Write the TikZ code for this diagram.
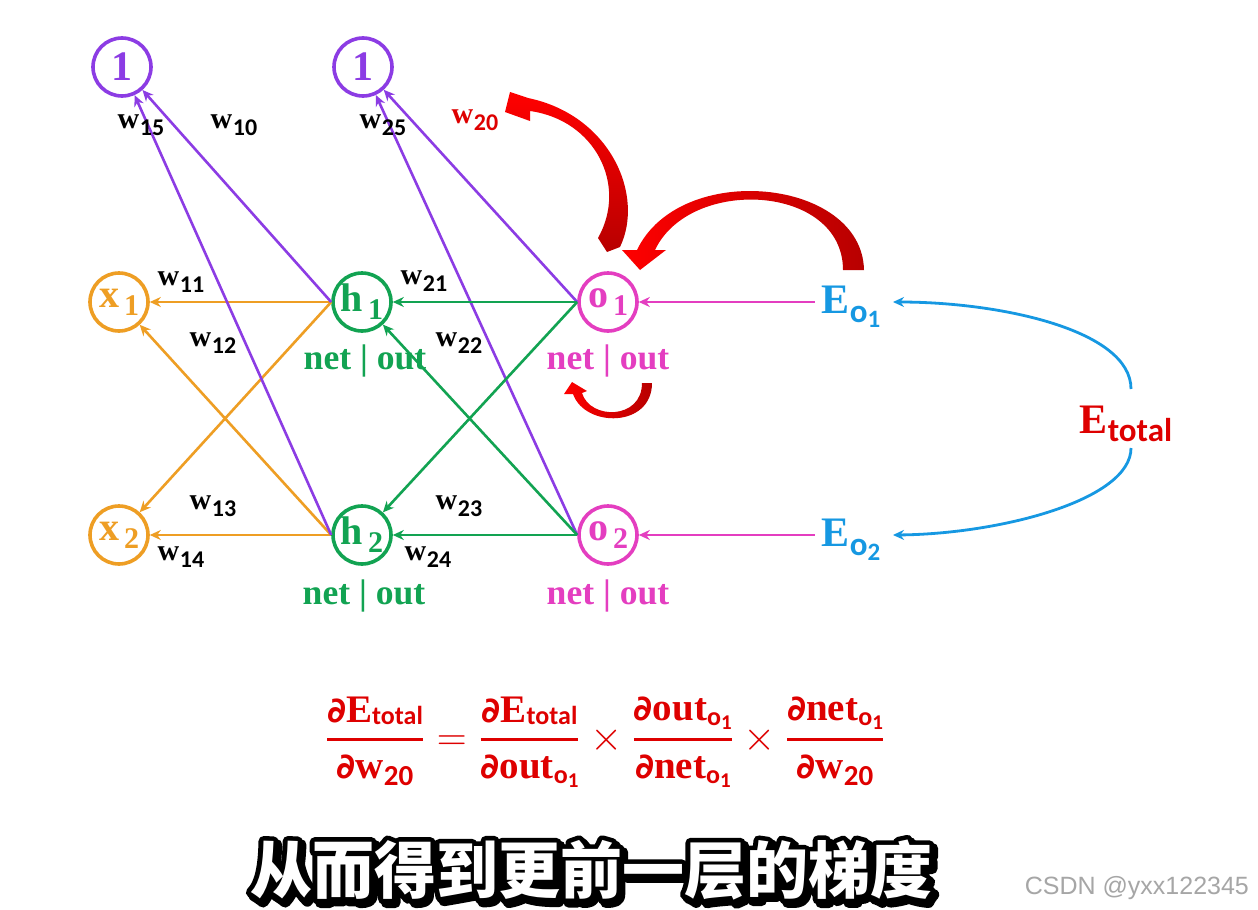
\documentclass[tikz,border=0pt]{standalone}
\usepackage{fontspec}
\usepackage{amsmath}
\usetikzlibrary{arrows.meta,calc}
\setmainfont{Liberation Serif}
\newfontfamily\subf{Carlito}
\newfontfamily\cjk{Noto Sans CJK SC}
\newfontfamily\wmf{Liberation Sans}
\newfontfamily\dfont{DejaVu Sans}
\definecolor{cOr}{RGB}{238,158,36}
\definecolor{cGr}{RGB}{18,163,82}
\definecolor{cPu}{RGB}{140,60,228}
\definecolor{cPk}{RGB}{228,62,192}
\definecolor{cBl}{RGB}{22,152,226}
\definecolor{cRd}{RGB}{222,0,0}
\newcommand\fs[1]{\fontsize{#1}{#1}\selectfont}
\newcommand\nlab[2]{\bfseries\fs{20}#1\kern2.5pt\raisebox{-4pt}{\fs{15}#2}}
\newcommand\wlab[1]{\bfseries\fs{15}w\kern0.3pt\raisebox{-3.2pt}{\subf\bfseries\fs{12}#1}}
\newcommand\Eo[1]{\bfseries\fs{21}E\raisebox{-4.5pt}{\subf\bfseries\fs{16.5}o\raisebox{-2.5pt}{\fs{12.5}#1}}}
\newcommand\pd{{\dfont\bfseries\fs{17.5}∂}}
\newcommand\fsubt[1]{\raisebox{-1pt}{\subf\bfseries\fs{13}#1}}
\newcommand\fnum[1]{\raisebox{-3.5pt}{\subf\bfseries\fs{14.5}#1}}
\newcommand\fo{\raisebox{-2.5pt}{\subf\bfseries\fs{13}o\raisebox{-2pt}{\fs{10.5}1}}}
\newcommand\nobar{net | out}
\newcommand\subtxt{\cjk\bfseries\fs{31}从而得到更前一层的梯度}
\newcommand\strokeon[1]{\special{pdf:literal direct 2 Tr #1 w 1 j 0 0 0 RG}}
\newcommand\strokeoff{\special{pdf:literal direct 0 Tr}}
\tikzset{
  neuron/.style={circle, draw, line width=1.8pt, minimum size=29pt, inner sep=0pt},
  edge/.style={line width=1.3pt, -{Stealth[length=5.5pt,width=5pt]}},
  nolab/.style={font=\bfseries\fs{17.8}},
}
\begin{document}
\begin{tikzpicture}[x=0.5pt,y=-0.5pt]
\fill[white] (0,0) rectangle (1258,910);
\useasboundingbox (0,0) rectangle (1258,910);

% neurons
\node[neuron,draw=cPu,text=cPu] (b1) at (122,67) {\bfseries\fs{21}1};
\node[neuron,draw=cPu,text=cPu] (b2) at (363,67) {\bfseries\fs{21}1};
\node[neuron,draw=cOr,text=cOr] (x1) at (119,302) {\nlab{x}{1}};
\node[neuron,draw=cOr,text=cOr] (x2) at (119,535) {\nlab{x}{2}};
\node[neuron,draw=cGr,text=cGr] (h1) at (362,302) {\nlab{h}{1}};
\node[neuron,draw=cGr,text=cGr] (h2) at (362,535) {\nlab{h}{2}};
\node[neuron,draw=cPk,text=cPk] (o1) at (608,302) {\nlab{o}{1}};
\node[neuron,draw=cPk,text=cPk] (o2) at (608,535) {\nlab{o}{2}};

% net | out
\node[nolab,text=cGr] (nh1) at (365,361) {\nobar};
\node[nolab,text=cGr] (nh2) at (364,596) {\nobar};
\node[nolab,text=cPk] (no1) at (608,361) {\nobar};
\node[nolab,text=cPk] (no2) at (608,596) {\nobar};

% errors
\node[text=cBl] (E1) at (851,307) {\Eo{1}};
\node[text=cBl] (E2) at (851,540) {\Eo{2}};
\node[text=cRd] (Et) at (1126,424) {\bfseries\fs{21}E\raisebox{-4pt}{\subf\bfseries\fs{16.5}total}};

% orange
\draw[edge,cOr] (h1.west) -- (x1);
\draw[edge,cOr] (h1.west) -- (x2);
\draw[edge,cOr] (h2.west) -- (x1);
\draw[edge,cOr] (h2.west) -- (x2);
% purple
\draw[edge,cPu] (h1.west) -- (b1);
\draw[edge,cPu] (h2.west) -- (b1);
\draw[edge,cPu] (o1.west) -- (b2);
\draw[edge,cPu] (o2.west) -- (b2);
% green
\draw[edge,cGr] (o1.west) -- (h1);
\draw[edge,cGr] (o1.west) -- (h2);
\draw[edge,cGr] (o2.west) -- (h1);
\draw[edge,cGr] (o2.west) -- (h2);
% pink
\draw[edge,cPk] (E1.west |- o1.east) -- (o1.east);
\draw[edge,cPk] (E2.west |- o2.east) -- (o2.east);
% blue
\coordinate (et1) at (1131,389);
\coordinate (et2) at (1131,448);
\coordinate (e1t) at (893,302);
\coordinate (e2t) at (893,535);
\draw[edge,cBl,line width=1.4pt] (et1) .. controls (1131,330) and (1000,302) .. (e1t);
\draw[edge,cBl,line width=1.4pt] (et2) .. controls (1131,500) and (1000,534) .. (e2t);

% weight labels
\node (w15) at (141,125) {\wlab{15}};
\node (w10) at (234,125) {\wlab{10}};
\node (w25) at (383,125) {\wlab{25}};
\node[text=cRd] (w20) at (475,120) {\wlab{20}};
\node (w11) at (181,282) {\wlab{11}};
\node (w12) at (213,343) {\wlab{12}};
\node (w13) at (213,506) {\wlab{13}};
\node (w14) at (181,557) {\wlab{14}};
\node (w21) at (424,281) {\wlab{21}};
\node (w22) at (459,343) {\wlab{22}};
\node (w23) at (459,506) {\wlab{23}};
\node (w24) at (428,557) {\wlab{24}};

% red block arrows
\shade[left color=red, right color=red!72!black]
  (864,270) .. controls (862,178) and (680,160) .. (637,250)
  -- (622,250) -- (640,270) -- (666,250) -- (655,250)
  .. controls (690,176) and (843,184) .. (843,270) -- cycle;
\shade[top color=red, bottom color=red!72!black]
  (620,247) .. controls (645,195) and (610,115) .. (528,98)
  -- (510,92) -- (505,112) -- (530,121) -- (530,111)
  .. controls (595,120) and (628,185) .. (598,238) -- (607,252) -- cycle;
\shade[left color=red, right color=red!72!black]
  (652,383) .. controls (652,428) and (585,428) .. (573,394)
  -- (564,394) -- (572,382) -- (587,391) -- (582,393)
  .. controls (590,420) and (642,420) .. (642,383) -- cycle;

% formula
\node[text=cRd] (eq) at (605,742) {\bfseries\fs{19.5}$\displaystyle
  \genfrac{}{}{1.4pt}{}{\hbox{\pd E\fsubt{total}}}{\hbox{\pd w\fnum{20}}}
  = \genfrac{}{}{1.4pt}{}{\hbox{\pd E\fsubt{total}}}{\hbox{\pd out\fo}}
  \times \genfrac{}{}{1.4pt}{}{\hbox{\pd out\fo}}{\hbox{\pd net\fo}}
  \times \genfrac{}{}{1.4pt}{}{\hbox{\pd net\fo}}{\hbox{\pd w\fnum{20}}}$};

% subtitle with outline and shadow
\node[text=black] (subsh) at ($(591,870)+(1.6pt,-1.6pt)$) {\strokeon{5.5}\subtxt\strokeoff};
\node[text=black] (subol) at (591,870) {\strokeon{5}\subtxt\strokeoff};
\node[text=white] (sub) at (591,870) {\subtxt};

% watermark
\node[text=black!35, anchor=east] (wm) at (1256,888) {\wmf\fs{12.5}CSDN @yxx122345};
\end{tikzpicture}
\end{document}
